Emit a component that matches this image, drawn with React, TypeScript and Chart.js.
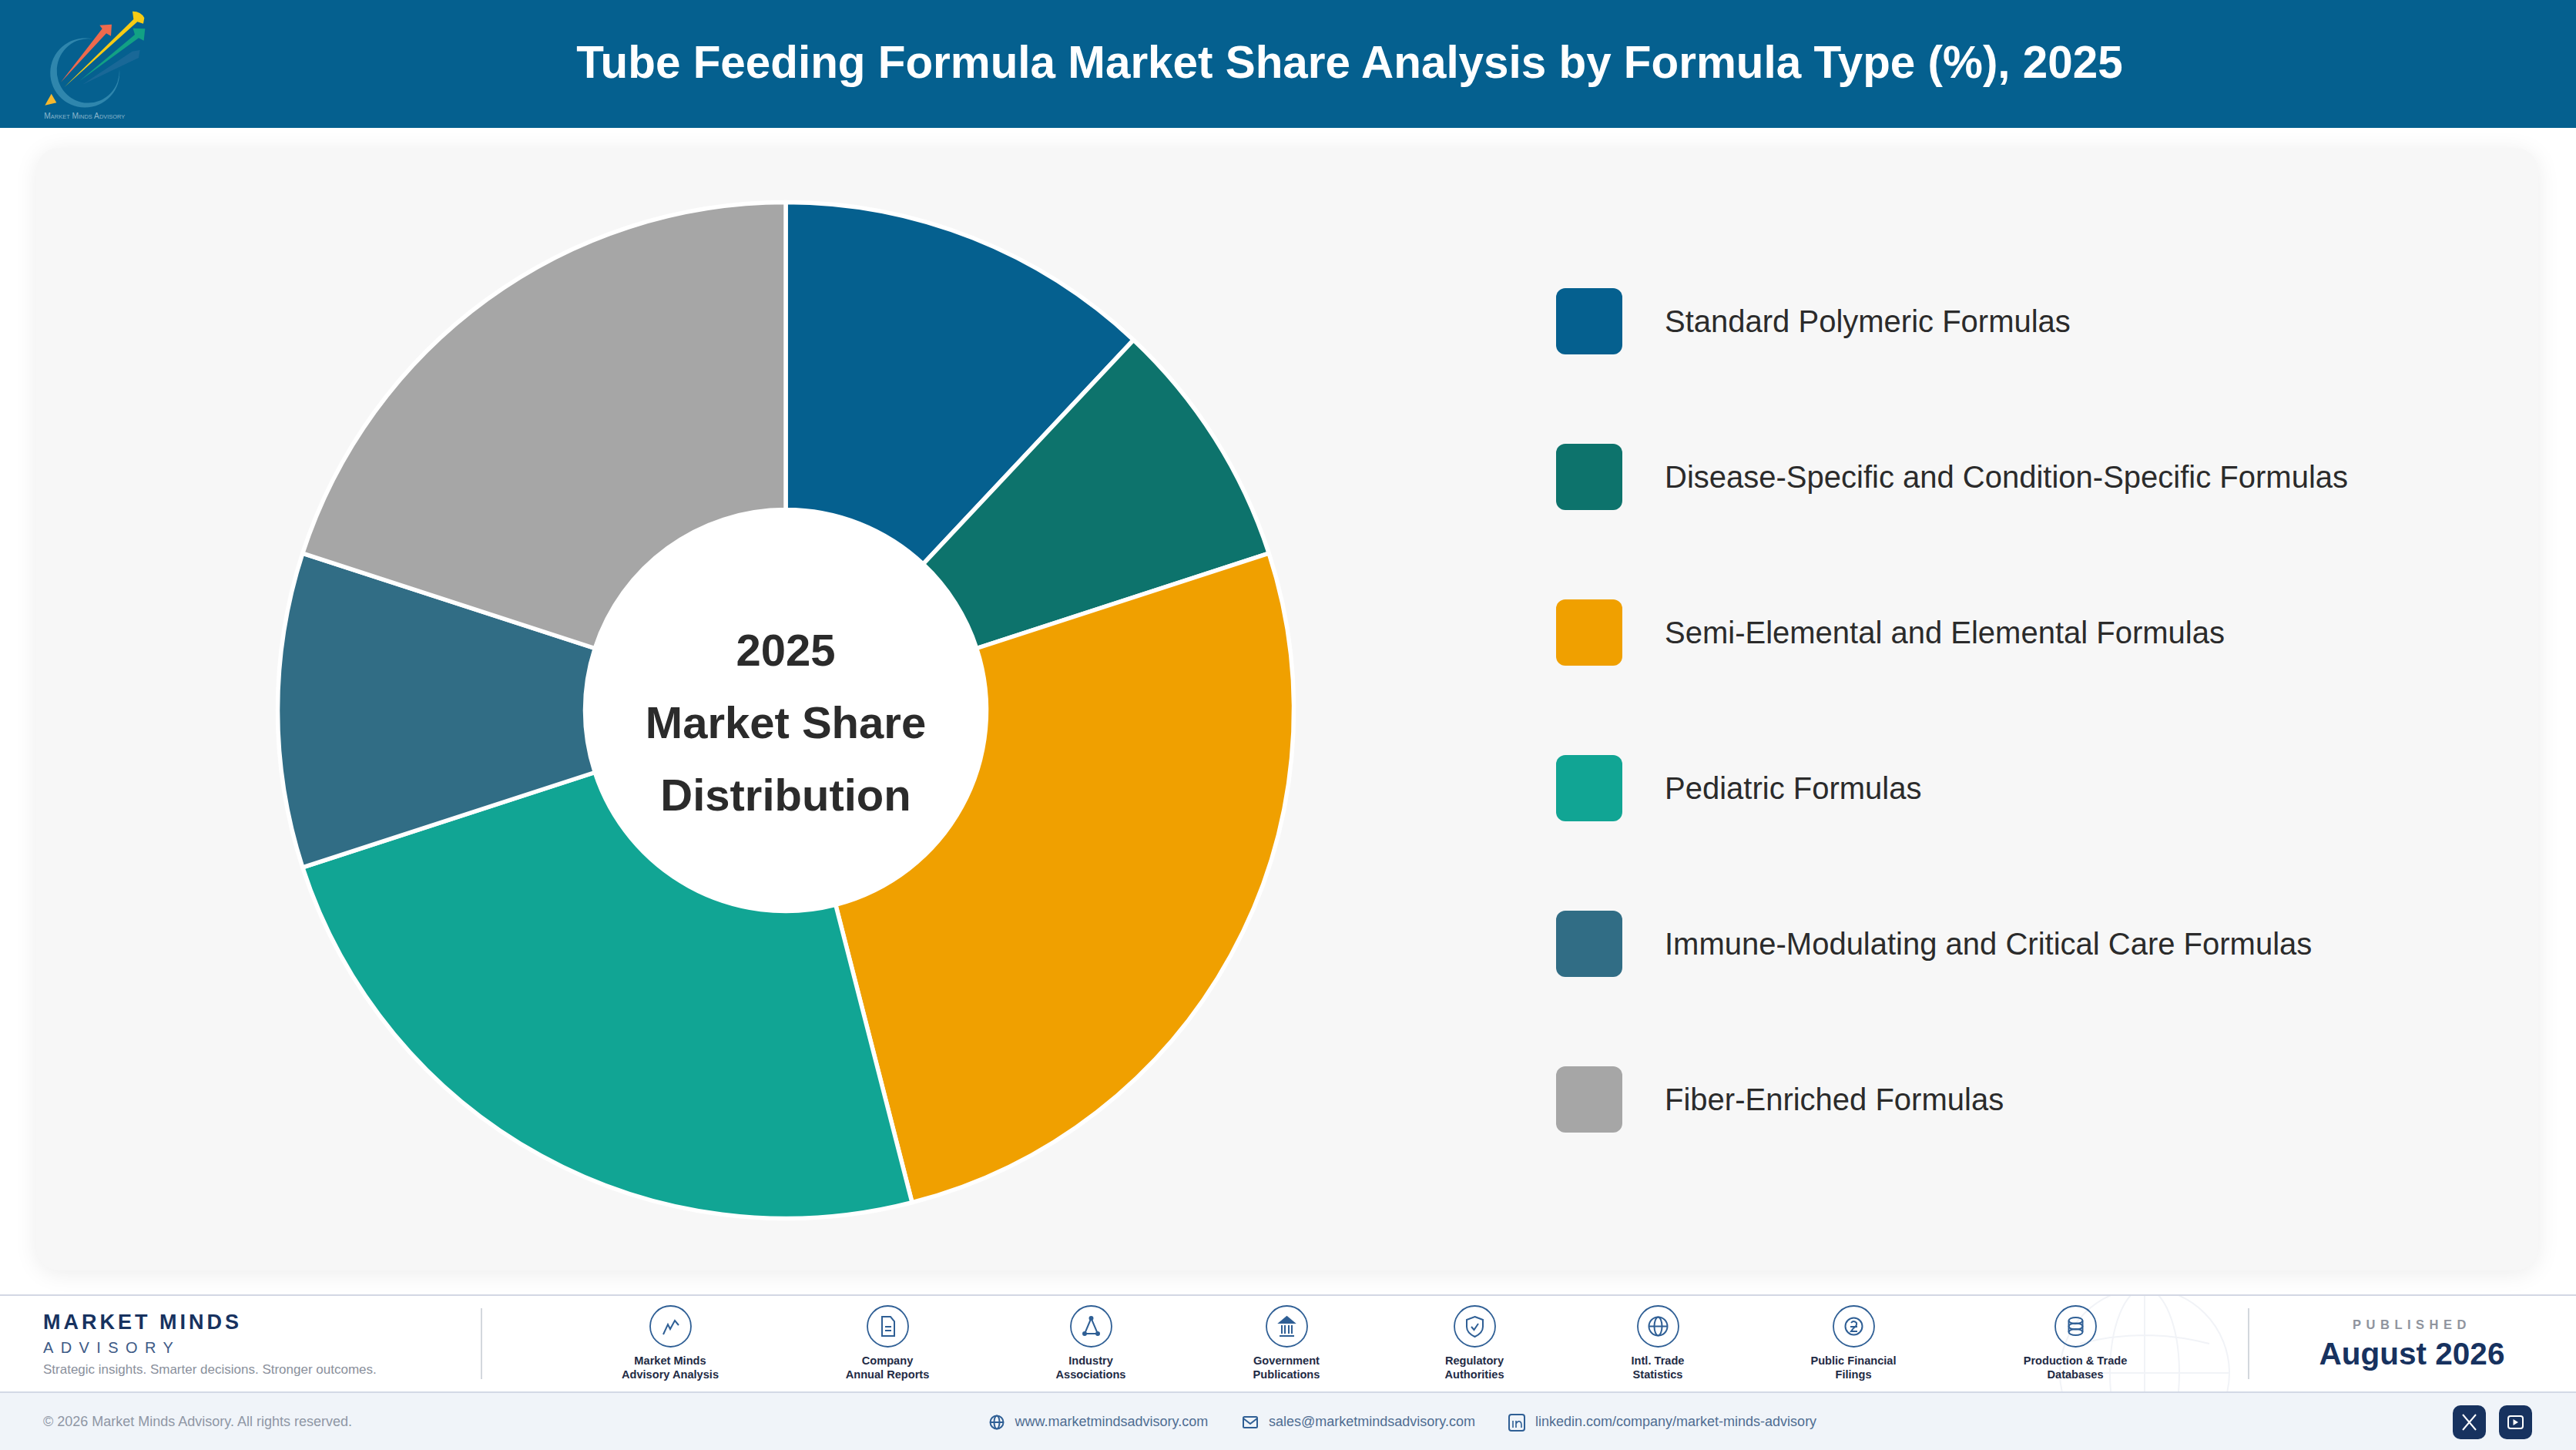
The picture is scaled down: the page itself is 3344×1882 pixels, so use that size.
import { Chart, registerables } from "chart.js"
import { useEffect, useRef } from "react"
import type { CSSProperties, ReactNode } from "react"

Chart.register(...registerables)

const categories = [
	"Standard Polymeric Formulas",
	"Disease-Specific and Condition-Specific Formulas",
	"Semi-Elemental and Elemental Formulas",
	"Pediatric Formulas",
	"Immune-Modulating and Critical Care Formulas",
	"Fiber-Enriched Formulas",
]
const shares = [12, 8, 26, 24, 10, 20]
const sliceColors = ["#05608f", "#0d736c", "#f0a000", "#11a594", "#316d85", "#a6a6a6"]
const centerLines = ["2025", "Market Share", "Distribution"]

const FONT = '"Liberation Sans", Arial, sans-serif'
const NAVY = "#17325f"
const ICON = "#2f5f95"

function DoughnutChart() {
	const canvasRef = useRef<HTMLCanvasElement>(null)

	useEffect(() => {
		if (!canvasRef.current) return
		const chart = new Chart(canvasRef.current, {
			type: "doughnut",
			data: {
				labels: categories,
				datasets: [
					{
						data: shares,
						backgroundColor: sliceColors,
						borderColor: "#ffffff",
						borderWidth: 5.5,
					},
				],
			},
			options: {
				responsive: false,
				animation: false,
				radius: 659.5,
				cutout: "39.5%",
				layout: { padding: 0 },
				plugins: { legend: { display: false }, tooltip: { enabled: false } },
			},
		})
		return () => chart.destroy()
	}, [])

	return (
		<canvas
			ref={canvasRef}
			width={1400}
			height={1400}
			style={{ position: "absolute", left: 320, top: 222, width: 1400, height: 1400 }}
		/>
	)
}

function Label(props: {
	readonly x: number
	readonly y: number
	readonly size: number
	readonly color: string
	readonly bold?: boolean
	readonly center?: boolean
	readonly spacing?: number
	readonly children: ReactNode
}) {
	const style: CSSProperties = {
		position: "absolute",
		left: props.x,
		top: props.y,
		transform: props.center ? "translate(-50%, -50%)" : "translateY(-50%)",
		fontFamily: FONT,
		fontSize: props.size,
		fontWeight: props.bold ? 700 : 400,
		color: props.color,
		letterSpacing: props.spacing ?? 0,
		whiteSpace: "nowrap",
		lineHeight: 1.2,
	}
	return <div style={style}>{props.children}</div>
}

function Logo() {
	return (
		<svg viewBox="0 0 1200 660" width={400} height={220} style={{ position: "absolute", left: 0, top: 0 }}>
			<path d="M360 152 A135 135 0 1 0 465 270 A122 125 0 1 1 360 152 Z" fill="#2f86ad" />
			<polygon points="320,330 515,200 545,195 540,225" fill="#2a6f9f" opacity="0.55" />
			<polygon points="310,315 525,135 518,110 565,112 560,158 540,148" fill="#12a184" />
			<polygon points="237,320 398,112 388,98 435,95 432,140 414,130" fill="#ee6a4d" />
			<path d="M250 340 L520 75 L516 44 Q550 44 562 70 L558 92 L535 85 Z" fill="#f7cb14" />
			<polygon points="200,365 220,400 175,410" fill="#f5b82e" />
			<text
				x="172"
				y="461"
				textLength="315"
				lengthAdjust="spacingAndGlyphs"
				fontFamily={FONT}
				fontSize="33"
				fill="#8ab6cc"
				style={{ fontVariant: "small-caps" }}
			>
				Market Minds Advisory
			</text>
		</svg>
	)
}

function SourceIcon(props: { readonly cx: number; readonly lines: string[]; readonly children: ReactNode }) {
	return (
		<>
			<svg
				viewBox="0 0 55 55"
				width={55}
				height={55}
				fill="none"
				stroke={ICON}
				strokeWidth="2"
				style={{ position: "absolute", left: props.cx - 27.5, top: 1694 }}
			>
				<circle cx="27.5" cy="27.5" r="26.5" strokeWidth="1.8" />
				{props.children}
			</svg>
			<Label x={props.cx} y={1767} size={14.6} color="#1f2b45" bold center>
				{props.lines[0]}
			</Label>
			<Label x={props.cx} y={1785} size={14.6} color="#1f2b45" bold center>
				{props.lines[1]}
			</Label>
		</>
	)
}

function Contact(props: { readonly x: number; readonly text: string }) {
	return (
		<Label x={props.x} y={1846} size={18} color="#4f6d92">
			{props.text}
		</Label>
	)
}

export default function App() {
	return (
		<div
			style={{
				position: "absolute",
				left: 0,
				top: 0,
				width: 3344,
				height: 1882,
				overflow: "hidden",
				background: "#ffffff",
			}}
		>
			<div style={{ position: "absolute", left: 0, top: 0, width: 3344, height: 166, background: "#05608f" }} />
			<Logo />
			<Label x={1752} y={81} size={58.4} color="#ffffff" bold center>
				Tube Feeding Formula Market Share Analysis by Formula Type (%), 2025
			</Label>

			<div
				style={{
					position: "absolute",
					left: 47,
					top: 192,
					width: 3248,
					height: 1457,
					borderRadius: 30,
					background: "#f7f7f7",
					boxShadow: "0 4px 30px rgba(0,0,0,0.08)",
				}}
			/>
			<div
				style={{
					position: "absolute",
					left: 757,
					top: 659,
					width: 526,
					height: 526,
					borderRadius: "50%",
					background: "#ffffff",
				}}
			/>
			<DoughnutChart />
			{centerLines.map((line, i) => (
				<Label key={line} x={1020} y={844 + i * 94} size={58} color="#2b2b2b" bold center>
					{line}
				</Label>
			))}

			{categories.map((name, i) => (
				<div key={name}>
					<div
						style={{
							position: "absolute",
							left: 2020,
							top: 374 + i * 202,
							width: 86,
							height: 86,
							borderRadius: 12,
							background: sliceColors[i],
						}}
					/>
					<Label x={2161} y={417 + i * 202} size={40} color="#2b2b2b">
						{name}
					</Label>
				</div>
			))}

			<div style={{ position: "absolute", left: 0, top: 1680, width: 3344, height: 2, background: "#d3d7e4" }} />
			<svg
				viewBox="0 0 240 124"
				width={240}
				height={124}
				fill="none"
				stroke="#f1f3f7"
				strokeWidth="2"
				style={{ position: "absolute", left: 2664, top: 1682 }}
			>
				<circle cx="120" cy="100" r="110" />
				<ellipse cx="120" cy="100" rx="45" ry="110" />
				<path d="M10 100 H230 M36 62 Q120 40 204 62 M120 -10 V124" />
			</svg>
			<Label x={56} y={1716} size={27} color={NAVY} bold spacing={4}>
				MARKET MINDS
			</Label>
			<Label x={56} y={1749} size={20} color="#3d5a86" spacing={9.4}>
				ADVISORY
			</Label>
			<Label x={56} y={1778} size={17} color="#8a909c">
				Strategic insights. Smarter decisions. Stronger outcomes.
			</Label>
			<div style={{ position: "absolute", left: 624, top: 1698, width: 2, height: 92, background: "#d3d7dd" }} />
			<div style={{ position: "absolute", left: 2918, top: 1698, width: 2, height: 92, background: "#d3d7dd" }} />

			<SourceIcon cx={870} lines={["Market Minds", "Advisory Analysis"]}>
				<path d="M18 38 L24 25 L27 31 L33 20 L38 26" />
			</SourceIcon>
			<SourceIcon cx={1152} lines={["Company", "Annual Reports"]}>
				<path d="M20 15 H31 L36 21 V40 H20 Z M24 28 H32 M24 33 H32" />
			</SourceIcon>
			<SourceIcon cx={1416} lines={["Industry", "Associations"]}>
				<path d="M27.5 17 L19 37 H36 Z" />
				<circle cx="27.5" cy="17" r="2" fill={ICON} />
				<circle cx="19" cy="37" r="2" fill={ICON} />
				<circle cx="36" cy="37" r="2" fill={ICON} />
			</SourceIcon>
			<SourceIcon cx={1670} lines={["Government", "Publications"]}>
				<path d="M18 23 L27.5 15 L37 23 Z" fill={ICON} />
				<path d="M21 26 V37 M25 26 V37 M30 26 V37 M34 26 V37 M18 40 H37" />
			</SourceIcon>
			<SourceIcon cx={1914} lines={["Regulatory", "Authorities"]}>
				<path d="M27.5 15 L38 19 V28 Q38 36 27.5 41 Q17 36 17 28 V19 Z" />
				<path d="M23 28 L26.5 32 L32 24" />
			</SourceIcon>
			<SourceIcon cx={2152} lines={["Intl. Trade", "Statistics"]}>
				<circle cx="27.5" cy="27.5" r="12" />
				<ellipse cx="27.5" cy="27.5" rx="5" ry="12" />
				<path d="M15.5 27.5 H39.5" />
			</SourceIcon>
			<SourceIcon cx={2406} lines={["Public Financial", "Filings"]}>
				<circle cx="27.5" cy="27.5" r="11" />
				<path d="M24 23 Q27 19 31 23 Q32 27 27 30 L24 34 H32 M23 28 H32" />
			</SourceIcon>
			<SourceIcon cx={2694} lines={["Production & Trade", "Databases"]}>
				<ellipse cx="27.5" cy="20" rx="9" ry="4" />
				<ellipse cx="27.5" cy="27.5" rx="9" ry="4" />
				<ellipse cx="27.5" cy="35" rx="9" ry="4" />
				<path d="M18.5 20 V35 M36.5 20 V35" />
			</SourceIcon>

			<Label x={3131} y={1720} size={16.5} color="#8f949e" bold center spacing={6.5}>
				PUBLISHED
			</Label>
			<Label x={3131} y={1757} size={40.5} color={NAVY} bold center>
				August 2026
			</Label>

			<div style={{ position: "absolute", left: 0, top: 1806, width: 3344, height: 76, background: "#f0f4f9" }} />
			<div style={{ position: "absolute", left: 0, top: 1806, width: 3344, height: 2, background: "#d3d9e6" }} />
			<Label x={56} y={1846} size={18} color="#8f97a5">
				© 2026 Market Minds Advisory. All rights reserved.
			</Label>
			<svg
				viewBox="0 0 1100 44"
				width={1100}
				height={44}
				fill="none"
				stroke={ICON}
				strokeWidth="2"
				style={{ position: "absolute", left: 1280, top: 1824 }}
			>
				<circle cx="14" cy="22" r="8.5" />
				<ellipse cx="14" cy="22" rx="3.5" ry="8.5" />
				<path d="M5.5 22 H22.5" />
				<rect x="334" y="15" width="18" height="14" rx="1.5" />
				<path d="M334 17 L343 24 L352 17" />
				<rect x="679" y="12" width="20" height="21" rx="3" />
				<path d="M684 20 V29 M688 29 V20 M688 24 Q690 20 693 21 Q695 22 695 25 V29" strokeWidth="1.6" />
			</svg>
			<Contact x={1317.5} text="www.marketmindsadvisory.com" />
			<Contact x={1647} text="sales@marketmindsadvisory.com" />
			<Contact x={1993} text="linkedin.com/company/market-minds-advisory" />
			<svg
				viewBox="0 0 104 44"
				width={104}
				height={44}
				fill="none"
				stroke="#ffffff"
				strokeWidth="2"
				style={{ position: "absolute", left: 3184, top: 1824 }}
			>
				<rect x="0" y="0" width="43" height="44" rx="10" fill={NAVY} stroke="none" />
				<rect x="60" y="0" width="43" height="44" rx="10" fill={NAVY} stroke="none" />
				<path d="M13 12 L30 32 M30 12 L13 32" />
				<rect x="72" y="14" width="19" height="16" rx="3" />
				<path d="M78.5 18 L85 22 L78.5 26 Z" fill="#ffffff" stroke="none" />
			</svg>
		</div>
	)
}
